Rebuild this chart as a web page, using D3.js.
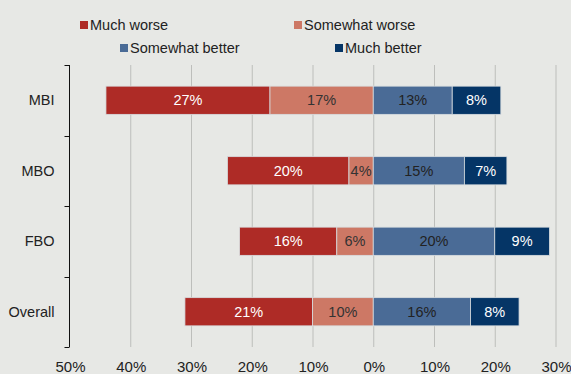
<!DOCTYPE html>
<html>
<head>
<meta charset="utf-8">
<script src="https://cdn.jsdelivr.net/npm/d3@7"></script>
<style>
  body { margin: 0; background: #e7e8e5; }
  svg { display: block; font-family: "Liberation Sans", Arial, sans-serif; }
</style>
</head>
<body>
<div id="chart"></div>
<script>
var groups = ['MBI', 'MBO', 'FBO', 'Overall']
var seriesNames = ['Much worse', 'Somewhat worse', 'Somewhat better', 'Much better']
var muchWorse = [27, 20, 16, 21]
var somewhatWorse = [17, 4, 6, 10]
var somewhatBetter = [13, 15, 20, 16]
var muchBetter = [8, 7, 9, 8]
var xTicks = [-50, -40, -30, -20, -10, 0, 10, 20, 30]

var colors = ['#ae2b26', '#cd7865', '#4a6b96', '#053566']
var textColors = ['#fff', '#333', '#222', '#fff']

var width = 571, height = 374
var svg = d3.select('#chart').append('svg').attr('width', width).attr('height', height)

var x = d3.scaleLinear().domain([-50, 30]).range([69.5, 555.5])
var y = d3.scaleBand().domain(groups).range([65, 347]).paddingInner(0.6).paddingOuter(0.3)

// gridlines
svg.append('g').selectAll('line').data(xTicks.slice(1)).join('line')
  .attr('x1', d => x(d) + 0.5).attr('x2', d => x(d) + 0.5)
  .attr('y1', 65).attr('y2', 347)
  .attr('stroke', '#bdbebb').attr('stroke-width', 1)

// stacked segments: negatives go left from zero
var rows = groups.map(function(g, i){
  var segs = []
  segs.push({s: 0, x0: -(muchWorse[i] + somewhatWorse[i]), x1: -somewhatWorse[i], v: muchWorse[i]})
  segs.push({s: 1, x0: -somewhatWorse[i], x1: 0, v: somewhatWorse[i]})
  segs.push({s: 2, x0: 0, x1: somewhatBetter[i], v: somewhatBetter[i]})
  segs.push({s: 3, x0: somewhatBetter[i], x1: somewhatBetter[i] + muchBetter[i], v: muchBetter[i]})
  return {g: g, segs: segs}
})

var rowSel = svg.append('g').selectAll('g').data(rows).join('g')
  .attr('transform', d => 'translate(0,' + y(d.g) + ')')

rowSel.selectAll('rect').data(d => d.segs).join('rect')
  .attr('x', d => x(d.x0)).attr('width', d => x(d.x1) - x(d.x0))
  .attr('y', 0).attr('height', y.bandwidth())
  .attr('fill', d => colors[d.s])
  .attr('stroke', '#d8dcdf').attr('stroke-width', 0.8)

rowSel.selectAll('text').data(d => d.segs).join('text')
  .attr('x', d => (x(d.x0) + x(d.x1)) / 2)
  .attr('y', y.bandwidth() / 2 + 5)
  .attr('text-anchor', 'middle')
  .attr('font-size', 14.5)
  .attr('fill', d => textColors[d.s])
  .text(d => d.v + '%')

// y axis
var yAxis = d3.axisLeft(y).tickSize(5).tickPadding(14).tickValues(groups)
var yAxisG = svg.append('g').attr('transform', 'translate(69.5,0)')
yAxisG.append('line').attr('y1', 65).attr('y2', 347).attr('stroke', '#111')
var bounds = [65].concat(groups.map(g => y(g) + y.bandwidth() / 2 + y.step() / 2))
yAxisG.selectAll('.tk').data(bounds).join('line')
  .attr('x1', -5).attr('x2', 0).attr('y1', d => Math.round(d) + 0.5).attr('y2', d => Math.round(d) + 0.5)
  .attr('stroke', '#111')
yAxisG.selectAll('.lab').data(groups).join('text')
  .attr('x', -15).attr('y', d => y(d) + y.bandwidth() / 2 + 5)
  .attr('text-anchor', 'end').attr('font-size', 14.5).attr('fill', '#222')
  .text(d => d)

// x tick labels
svg.append('g').selectAll('text').data(xTicks).join('text')
  .attr('x', d => x(d) + 1).attr('y', 372)
  .attr('text-anchor', 'middle').attr('font-size', 15).attr('fill', '#222')
  .text(d => Math.abs(d) + '%')

// legend
var legendPos = [[80, 20], [294, 20], [120, 43], [335, 43]]
var leg = svg.append('g').selectAll('g').data(seriesNames).join('g')
  .attr('transform', (d, i) => 'translate(' + legendPos[i][0] + ',' + legendPos[i][1] + ')')
leg.append('rect').attr('width', 8).attr('height', 8).attr('y', 1).attr('fill', (d, i) => colors[i])
leg.append('text').attr('x', 10).attr('y', 9.5).attr('font-size', 14.5).attr('fill', '#222').text(d => d)
</script>
</body>
</html>
